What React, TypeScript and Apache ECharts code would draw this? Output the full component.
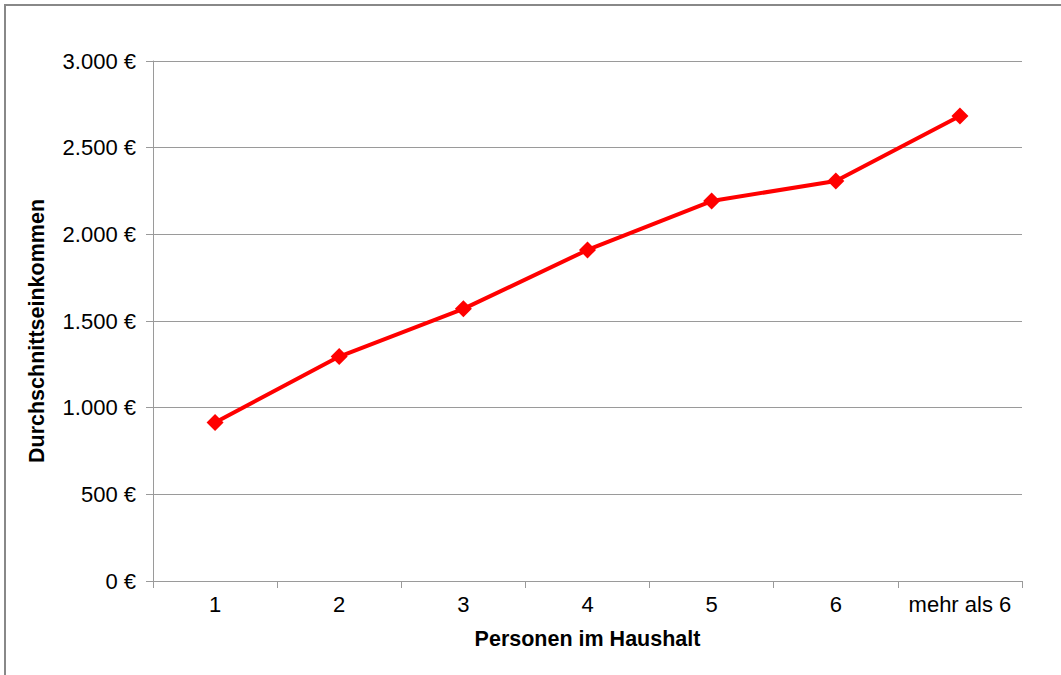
import React, { useEffect, useRef } from "react";
import * as echarts from "echarts";

const categories = ["1", "2", "3", "4", "5", "6", "mehr als 6"];
const incomeValues = [915, 1295, 1570, 1910, 2192, 2308, 2683];
const yTicks = [0, 500, 1000, 1500, 2000, 2500, 3000];

const fmt = (v: number) => {
  const s = String(Math.round(v));
  const withDots = s.replace(/\B(?=(\d{3})+(?!\d))/g, ".");
  return withDots + " €";
};

export default function App() {
  const ref = useRef<HTMLDivElement>(null);
  useEffect(() => {
    if (!ref.current) return;
    const chart = echarts.init(ref.current, null, { renderer: "svg" });
    const font = "Liberation Sans, Arial, sans-serif";
    chart.setOption({
      animation: false,
      backgroundColor: "#ffffff",
      textStyle: { fontFamily: font },
      graphic: [
        {
          type: "rect",
          shape: { x: 5, y: 5, width: 1100, height: 720 },
          style: { fill: "none", stroke: "#888888", lineWidth: 2 },
          silent: true,
        },
      ],
      grid: { left: 153, right: 39, top: 61, bottom: 94, containLabel: false },
      xAxis: {
        type: "category",
        data: categories,
        boundaryGap: true,
        name: "Personen im Haushalt",
        nameLocation: "middle",
        nameGap: 47,
        nameTextStyle: { fontFamily: font, fontSize: 21.5, fontWeight: "bold", color: "#000" },
        axisLine: { show: true, lineStyle: { color: "#9a9a9a", width: 1 } },
        axisTick: { show: true, alignWithLabel: false, length: 7, lineStyle: { color: "#9a9a9a" } },
        axisLabel: { fontFamily: font, fontSize: 22, color: "#000", margin: 12, interval: 0 },
        splitLine: { show: false },
      },
      yAxis: {
        type: "value",
        min: 0,
        max: 3000,
        interval: 500,
        name: "Durchschnittseinkommen",
        nameLocation: "middle",
        nameGap: 105,
        nameRotate: 90,
        nameTextStyle: {
          fontFamily: font,
          fontSize: 21.5,
          fontWeight: "bold",
          color: "#000",
          padding: [0, 20, 0, 0],
        },
        axisLine: { show: true, lineStyle: { color: "#9a9a9a", width: 1 } },
        axisTick: { show: true, length: 7, lineStyle: { color: "#9a9a9a" } },
        axisLabel: {
          fontFamily: font,
          fontSize: 22,
          color: "#000",
          margin: 17,
          formatter: (v: number) => (yTicks.includes(v) ? fmt(v) : ""),
        },
        splitLine: { show: true, lineStyle: { color: "#9a9a9a", width: 1 } },
      },
      series: [
        {
          type: "line",
          data: incomeValues,
          symbol: "diamond",
          symbolSize: 17,
          lineStyle: { color: "#ff0000", width: 4 },
          itemStyle: { color: "#ff0000" },
        },
      ],
    });
    return () => chart.dispose();
  }, []);
  return (
    <div
      ref={ref}
      style={{ position: "absolute", left: 0, top: 0, width: 1061, height: 675 }}
    />
  );
}
